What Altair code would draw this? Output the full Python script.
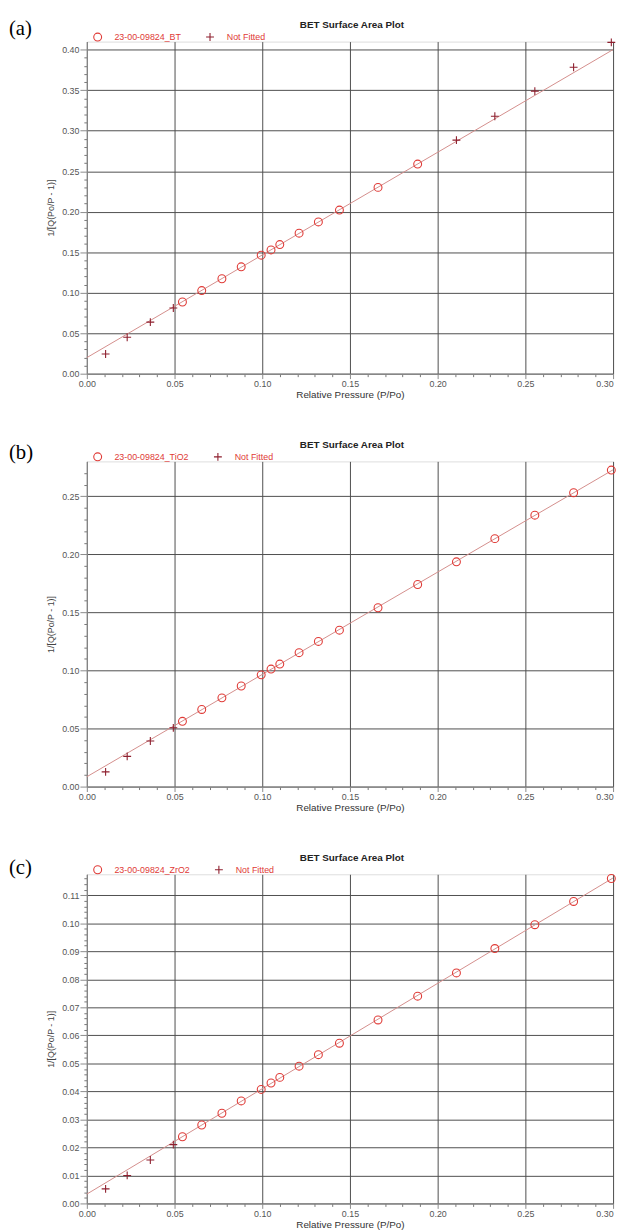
import altair as alt
import pandas as pd

# ---------------- data ----------------
x_rel = [0.0107, 0.0230, 0.0362, 0.0493, 0.0545, 0.0655, 0.0770, 0.0880, 0.0994, 0.1050, 0.1100,
         0.1210, 0.1320, 0.1440, 0.1660, 0.1886, 0.2107, 0.2326, 0.2554, 0.2775, 0.2990]

y_bt = [0.0243, 0.0450, 0.0637, 0.0811, 0.0885, 0.1026, 0.1172, 0.1319, 0.1463, 0.1528, 0.1594,
        0.1735, 0.1874, 0.2020, 0.2300, 0.2588, 0.2883, 0.3178, 0.3488, 0.3783, 0.4090]
fit_bt = [False, False, False, False, True, True, True, True, True, True, True,
          True, True, True, True, True, False, False, False, False, False]

y_tio2 = [0.0127, 0.0260, 0.0393, 0.0506, 0.0562, 0.0664, 0.0764, 0.0866, 0.0962, 0.1012, 0.1055,
          0.1153, 0.1250, 0.1347, 0.1540, 0.1740, 0.1935, 0.2135, 0.2337, 0.2530, 0.2725]
fit_tio2 = [False, False, False, False, True, True, True, True, True, True, True,
            True, True, True, True, True, True, True, True, True, True]

y_zro2 = [0.0052, 0.0100, 0.0155, 0.0210, 0.0238, 0.0280, 0.0322, 0.0366, 0.0407, 0.0430, 0.0450,
          0.0490, 0.0531, 0.0572, 0.0655, 0.0740, 0.0823, 0.0910, 0.0995, 0.1078, 0.1160]
fit_zro2 = fit_tio2

x_major = [0.00, 0.05, 0.10, 0.15, 0.20, 0.25, 0.30]
x_minor = [0.01, 0.02, 0.03, 0.04, 0.06, 0.07, 0.08, 0.09, 0.11, 0.12, 0.13, 0.14,
           0.16, 0.17, 0.18, 0.19, 0.21, 0.22, 0.23, 0.24, 0.26, 0.27, 0.28, 0.29]

y_major_a = [0.00, 0.05, 0.10, 0.15, 0.20, 0.25, 0.30, 0.35, 0.40]
y_major_b = [0.00, 0.05, 0.10, 0.15, 0.20, 0.25]
y_major_c = [0.00, 0.01, 0.02, 0.03, 0.04, 0.05, 0.06, 0.07, 0.08, 0.09, 0.10, 0.11]
y_minor_a = [round(i * 0.01, 3) for i in range(1, 41) if i % 5]
y_minor_b = [round(i * 0.01, 3) for i in range(1, 28) if i % 5]
y_minor_c = [round(i * 0.002, 4) for i in range(1, 59) if i % 5]

PLOT_TITLE = "BET Surface Area Plot"
X_TITLE = "Relative Pressure (P/Po)"
Y_TITLE = "1/[Q(Po/P - 1)]"
NOT_FITTED = "Not Fitted"

# ---------------- styles ----------------
RED = "#e03a36"
DARKRED = "#8e1f2e"
LINE = "#d38d8b"
GRID = "#4d4d4d"
AXISC = "#8a8a8a"
FONT = "Liberation Sans"
PLUS = "M-1,0H1M0,-1V1"
W = 534


def panel(tag, sample, ys, fitted, ymax, ymajor, yminor, height, tag_y):
    label = "23-00-09824_" + sample
    df = pd.DataFrame({"x": x_rel, "y": ys,
                       "series": [label if f else NOT_FITTED for f in fitted]})
    xs = alt.Scale(domain=[0, 0.3], nice=False, zero=False)
    yscale = alt.Scale(domain=[0, ymax], nice=False, zero=False)

    major_x = alt.Axis(orient="bottom", values=x_major, format=".2f", grid=True,
                       gridColor=GRID, gridWidth=1, domainColor=AXISC, tickColor=AXISC,
                       tickSize=5, labelFontSize=9, labelColor="#555", labelPadding=1,
                       labelFont=FONT,
                       labelAlign=alt.condition("datum.value >= 0.299", alt.value("right"),
                                                alt.value("center")),
                       title=X_TITLE, titleFontSize=10, titleFontWeight="normal",
                       titleColor="#333", titlePadding=1, titleFont=FONT)
    major_y = alt.Axis(orient="left", values=ymajor, format=".2f", grid=True,
                       gridColor=GRID, gridWidth=1, domainColor=AXISC, tickColor=AXISC,
                       tickSize=7, labelFontSize=9, labelColor="#555", labelPadding=1,
                       labelFont=FONT,
                       title=Y_TITLE, titleFontSize=9, titleFontWeight="normal",
                       titleColor="#444", titlePadding=6, titleFont=FONT)
    minor_x = alt.Axis(orient="bottom", values=x_minor, labels=False, grid=False,
                       domain=False, tickSize=3, tickColor="#777", title=None)
    minor_y = alt.Axis(orient="left", values=yminor, labels=False, grid=False,
                       domain=False, tickSize=3, tickColor="#777", title=None)

    base = alt.Chart(df)

    line = base.transform_filter(alt.datum.series == label).transform_regression(
        "x", "y", extent=[0, 0.3]
    ).mark_line(color=LINE, strokeWidth=1).encode(
        x=alt.X("x:Q", scale=xs, axis=major_x),
        y=alt.Y("y:Q", scale=yscale, axis=major_y),
    )

    minor = base.mark_point(opacity=0).encode(
        x=alt.X("x:Q", scale=xs, axis=minor_x),
        y=alt.Y("y:Q", scale=yscale, axis=minor_y),
    )

    leg = alt.Legend(orient="none", legendX=6, legendY=-10, direction="horizontal",
                     title=None, labelColor=RED, labelFontSize=9, labelFont=FONT,
                     symbolSize=64, symbolStrokeWidth=1.1, labelOffset=12,
                     columnPadding=22, padding=0)
    dom = [label, NOT_FITTED]
    pts = base.mark_point(filled=False, size=64, strokeWidth=1.1, opacity=1).encode(
        x=alt.X("x:Q", scale=xs, axis=None),
        y=alt.Y("y:Q", scale=yscale, axis=None),
        shape=alt.Shape("series:N", scale=alt.Scale(domain=dom, range=["circle", PLUS]),
                        legend=leg),
        color=alt.Color("series:N", scale=alt.Scale(domain=dom, range=[RED, DARKRED]),
                        legend=leg),
    )

    tag_df = pd.DataFrame({"t": [tag]})
    tag_txt = alt.Chart(tag_df).mark_text(
        font="Liberation Serif", fontSize=21, align="left", baseline="middle", color="#000"
    ).encode(text="t:N", x=alt.value(-79), y=alt.value(tag_y))

    ttl_df = pd.DataFrame({"t": [PLOT_TITLE]})
    ttl = alt.Chart(ttl_df).mark_text(
        font=FONT, fontSize=10, fontWeight="bold", align="center", baseline="middle",
        color="#222"
    ).encode(text="t:N", x=alt.value(W / 2 + 2), y=alt.value(-17))

    return alt.layer(minor, line, pts, tag_txt, ttl).resolve_axis(
        x="independent", y="independent"
    ).properties(width=W, height=height)


pa = panel("(a)", "BT", y_bt, fit_bt, 0.41, y_major_a, y_minor_a, 337, -13)
pb = panel("(b)", "TiO2", y_tio2, fit_tio2, 0.28, y_major_b, y_minor_b, 330, -8)
pc = panel("(c)", "ZrO2", y_zro2, fit_zro2, 0.1175, y_major_c, y_minor_c, 334, -6)

chart = alt.vconcat(pa, pb, pc, spacing=89, bounds="flush").resolve_scale(
    color="independent", shape="independent"
).resolve_legend(
    color="independent", shape="independent"
).properties(
    padding=0
).configure_view(stroke=None).configure(font=FONT)

chart.save("out.html", embed_options={"renderer": "svg", "actions": False})
